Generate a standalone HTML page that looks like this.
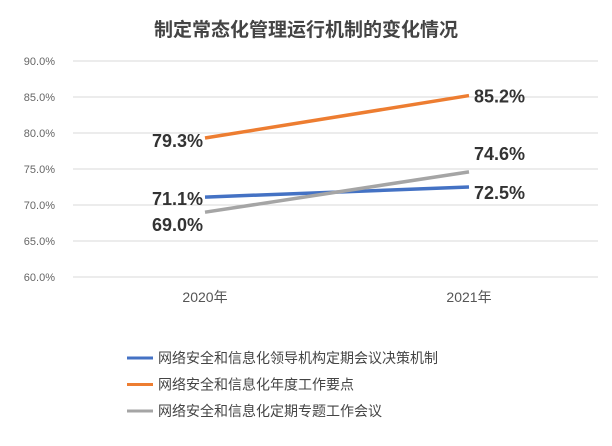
<!DOCTYPE html>
<html><head><meta charset="utf-8"><style>
body{margin:0;background:#fff;width:612px;height:441px;overflow:hidden;font-family:"Liberation Sans","Noto Sans CJK SC",sans-serif}
</style></head><body>
<svg width="612" height="441" id="c" xmlns="http://www.w3.org/2000/svg">
<text x="306" y="36" text-anchor="middle" font-size="19" font-weight="bold" fill="#444" font-family="Liberation Sans, Noto Sans CJK SC, sans-serif">制定常态化管理运行机制的变化情况</text>
<g id="grid"></g><g id="series"></g><g id="legend"></g>
</svg>
<script>
const categories=["2020年","2021年"];
const yTicks=[60,65,70,75,80,85,90];
const seriesNames=["网络安全和信息化领导机构定期会议决策机制","网络安全和信息化年度工作要点","网络安全和信息化定期专题工作会议"];
const blueValues=[71.1,72.5];
const orangeValues=[79.3,85.2];
const grayValues=[69.0,74.6];
const colors=["#4472c4","#ed7d31","#a5a5a5"];
const NS="http://www.w3.org/2000/svg";
const y=v=>277-(v-60)*(216/30);
const x=i=>205+i*264;
function mk(t,a,p,txt){const e=document.createElementNS(NS,t);for(const k in a)e.setAttribute(k,a[k]);if(txt!==undefined)e.textContent=txt;p.appendChild(e);return e;}
const g=document.getElementById('grid');
yTicks.forEach(v=>{
 const l=mk('line',{x1:73,x2:598,y1:y(v),y2:y(v),stroke:'#d9d9d9','stroke-width':1},g);
 
 
 const t=mk('text',{x:55,y:y(v)+4,'text-anchor':'end','font-size':11,fill:'#666'},g,v.toFixed(1)+'%');
 
 
});
categories.forEach((c,i)=>{
 const t=mk('text',{x:x(i),y:302,'text-anchor':'middle','font-size':14,fill:'#555'},g,c);
 
 
});
const s=document.getElementById('series');
const all=[blueValues,orangeValues,grayValues];
const labelOff=[1,2,12];
const labelOff2=[5,0,-19];
all.forEach((vals,k)=>{
 const p=mk('polyline',{points:vals.map((v,i)=>x(i)+','+y(v)).join(' '),fill:'none',stroke:colors[k],'stroke-width':3.5},s);
 
 
 vals.forEach((v,i)=>{
  const off=i===0?labelOff[k]:labelOff2[k];
  const t=mk('text',{x:i===0?x(i)-2:x(i)+5,y:y(v)+7+off,'text-anchor':i===0?'end':'start','font-size':18,'font-weight':'bold',fill:'#333'},s,v.toFixed(1)+'%');
  
  
 });
});
const lg=document.getElementById('legend');
seriesNames.forEach((n,k)=>{
 const yy=358+k*26.5;
 const l=mk('line',{x1:127,x2:153,y1:yy,y2:yy,stroke:colors[k],'stroke-width':3},lg);
 
 
 const t=mk('text',{x:158,y:yy+5,'font-size':14,fill:'#444'},lg,n);
 
 
});
</script>
</body></html>
